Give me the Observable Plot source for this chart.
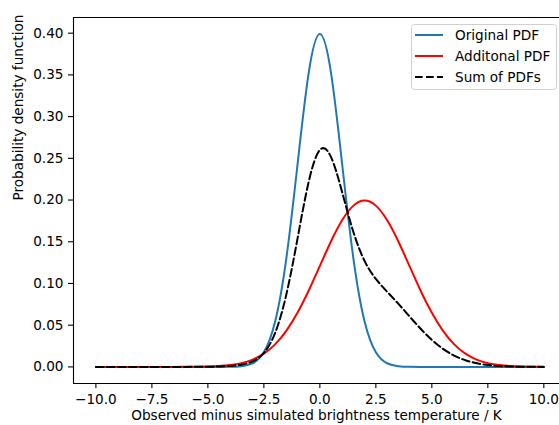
<!DOCTYPE html>
<html>
<head>
<meta charset="utf-8">
<script src="https://cdn.jsdelivr.net/npm/d3@7"></script>
<script src="https://cdn.jsdelivr.net/npm/@observablehq/plot@0.6"></script>
<style>
  html, body { margin: 0; padding: 0; background: #fff; }
  #chart { width: 559px; height: 425px; overflow: hidden; }
  svg { font-family: "DejaVu Sans", sans-serif; }
</style>
</head>
<body>
<div id="chart"></div>
<script>
// x positions (K)
const xs = [-10,-9.5,-9,-8.5,-8,-7.5,-7,-6.5,-6,-5.5,-5,-4.5,-4,-3.5,-3,-2.5,-2,-1.5,-1,-0.5,0,0.5,1,1.5,2,2.5,3,3.5,4,4.5,5,5.5,6,6.5,7,7.5,8,8.5,9,9.5,10];
// Original PDF values
const original = [0,0,0,0,0,0,0,0,0,0,0,0,0.0001,0.0009,0.0044,0.0175,0.054,0.1295,0.242,0.3521,0.3989,0.3521,0.242,0.1295,0.054,0.0175,0.0044,0.0009,0.0001,0,0,0,0,0,0,0,0,0,0,0,0];
// Additional PDF values
const additional = [0,0,0,0,0,0,0,0,0.0001,0.0002,0.0004,0.001,0.0022,0.0045,0.0088,0.0159,0.027,0.0432,0.0648,0.0913,0.121,0.1506,0.176,0.1933,0.1995,0.1933,0.176,0.1506,0.121,0.0913,0.0648,0.0432,0.027,0.0159,0.0088,0.0045,0.0022,0.001,0.0004,0.0002,0.0001];
// Sum of PDFs values
const summed = [0,0,0,0,0,0,0,0,0,0.0001,0.0002,0.0005,0.0012,0.0027,0.0066,0.0167,0.0405,0.0864,0.1534,0.2217,0.26,0.2514,0.209,0.1614,0.1268,0.1054,0.0902,0.0758,0.0606,0.0457,0.0324,0.0216,0.0135,0.008,0.0044,0.0023,0.0011,0.0005,0.0002,0.0001,0];

const xTicks = [-10,-7.5,-5,-2.5,0,2.5,5,7.5,10];
const yTicks = [0,0.05,0.1,0.15,0.2,0.25,0.3,0.35,0.4];
const seriesNames = ["Original PDF","Additonal PDF","Sum of PDFs"];
const seriesColors = ["#1f77b4","#ff0000","#000000"];

const mk = (arr) => xs.map((x, i) => ({x, y: arr[i]}));
const dOrig = mk(original), dAdd = mk(additional), dSum = mk(summed);

const xDom = [-11, 10.7];
const yDom = [-0.0199, 0.4188];
const fs = 13.6;

const plot = Plot.plot({
  width: 559,
  height: 425,
  marginLeft: 73,
  marginRight: 0,
  marginTop: 17,
  marginBottom: 42,
  style: {fontFamily: "DejaVu Sans, sans-serif", fontSize: fs + "px", color: "#000", background: "#fff", overflow: "visible"},
  x: {domain: xDom, label: null},
  y: {domain: yDom, label: null},
  marks: [
    Plot.line(dOrig, {x: "x", y: "y", stroke: seriesColors[0], strokeWidth: 2, curve: "natural"}),
    Plot.line(dAdd, {x: "x", y: "y", stroke: seriesColors[1], strokeWidth: 2, curve: "natural"}),
    Plot.line(dSum, {x: "x", y: "y", stroke: seriesColors[2], strokeWidth: 2, curve: "natural", strokeDasharray: "7.7,3.3"}),
    Plot.ruleX([xDom[0]], {stroke: "#000", strokeWidth: 1.1}),
    Plot.ruleY([yDom[0]], {stroke: "#000", strokeWidth: 1.1}),
    Plot.ruleY([yDom[1]], {stroke: "#000", strokeWidth: 1.1}),
    Plot.axisX({ticks: xTicks, tickFormat: d3.format(".1f"), tickSize: 5, tickPadding: 6, strokeWidth: 1.1, fontSize: fs, label: null}),
    Plot.axisY({ticks: yTicks, tickFormat: d3.format(".2f"), tickSize: 5, tickPadding: 5, strokeWidth: 1.1, fontSize: fs, label: null}),
    Plot.text(["Observed minus simulated brightness temperature / K"], {frameAnchor: "bottom", dy: 36, fontSize: fs, fill: "#000"}),
    Plot.text(["Probability density function"], {frameAnchor: "left", dx: -55, rotate: -90, fontSize: fs, fill: "#000"})
  ]
});
document.getElementById("chart").appendChild(plot);

// legend
const svg = d3.select(plot);
const g = svg.append("g").attr("font-family", "DejaVu Sans, sans-serif").attr("font-size", fs).attr("text-anchor", "start");
g.append("rect").attr("x", 411.5).attr("y", 24.5).attr("width", 145).attr("height", 65)
  .attr("rx", 3).attr("fill", "#fff").attr("fill-opacity", 0.8).attr("stroke", "#d0d0d0").attr("stroke-width", 1);
seriesNames.forEach((name, i) => {
  const yy = 35 + i * 21;
  g.append("line").attr("x1", 415).attr("x2", 443).attr("y1", yy).attr("y2", yy)
    .attr("stroke", seriesColors[i]).attr("stroke-width", 2)
    .attr("stroke-dasharray", i === 2 ? "7.7,3.3" : null);
  g.append("text").attr("x", 455).attr("y", yy).attr("dy", "0.35em").attr("text-anchor", "start").attr("fill", "#000").text(name);
});
</script>
</body>
</html>
